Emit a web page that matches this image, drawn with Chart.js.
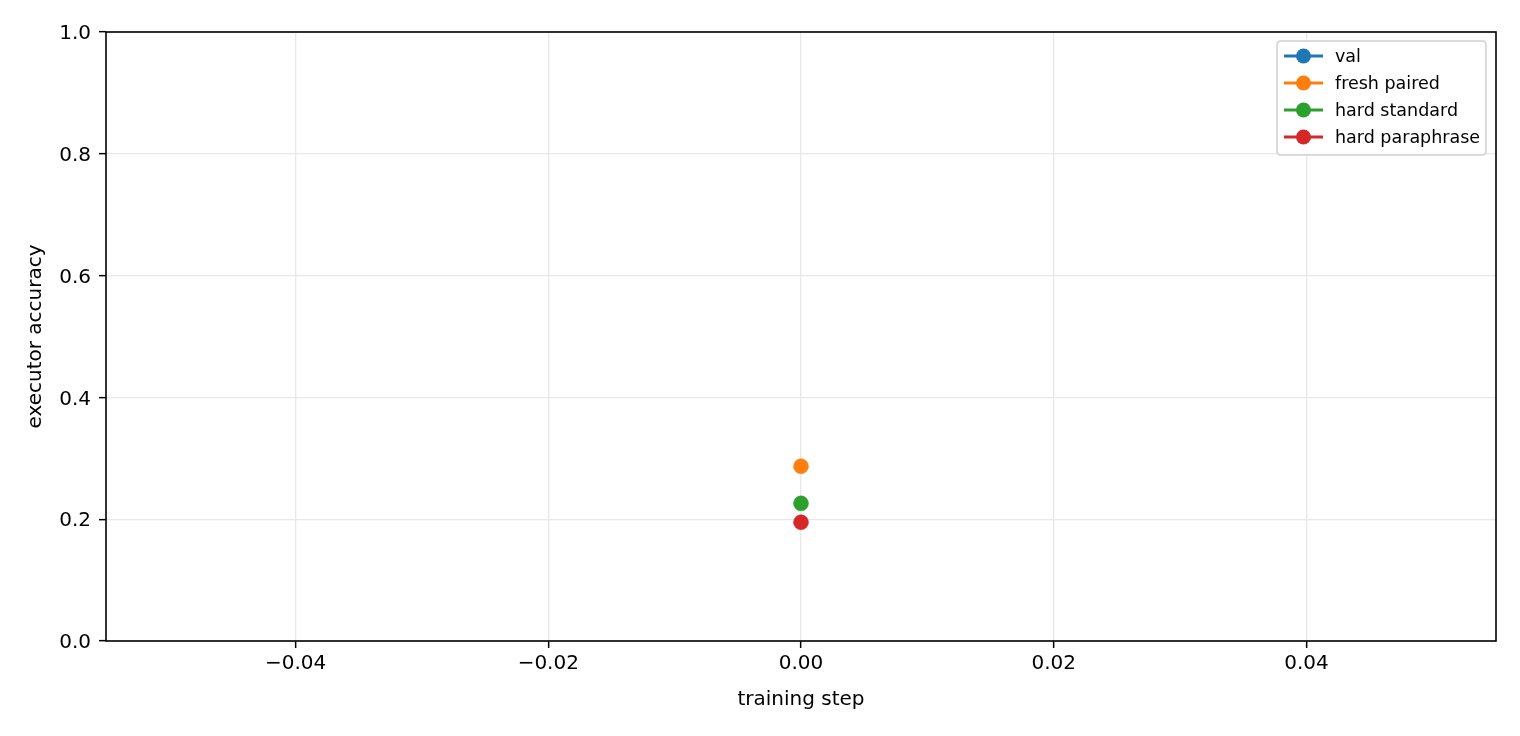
<!DOCTYPE html>
<html>
<head>
<meta charset="utf-8">
<script src="https://cdn.jsdelivr.net/npm/chart.js@4/dist/chart.umd.min.js"></script>
<style>
html,body{margin:0;padding:0;background:#fff;}
#wrap{width:1520px;height:736px;position:relative;}
</style>
</head>
<body>
<div id="wrap"><canvas id="c" width="1520" height="736"></canvas></div>
<script>
// ---- data ----
const seriesNames = ["val", "fresh paired", "hard standard", "hard paraphrase"];
const seriesColors = ["#1f77b4", "#ff7f0e", "#2ca02c", "#d62728"];
const steps = [0];
const valAcc = [null];
const freshPairedAcc = [0.287];
const hardStandardAcc = [0.226];
const hardParaphraseAcc = [0.195];
const xTicks = [-0.04, -0.02, 0.00, 0.02, 0.04];
const yTicks = [0.0, 0.2, 0.4, 0.6, 0.8, 1.0];
const xRange = [-0.055, 0.055];
const yRange = [0, 1];
const xTitle = "training step";
const yTitle = "executor accuracy";

const allSeries = [valAcc, freshPairedAcc, hardStandardAcc, hardParaphraseAcc];
const FONT = "'DejaVu Sans', sans-serif";

const datasets = allSeries.map((vals, i) => ({
  label: seriesNames[i],
  data: steps.map((s, j) => ({x: s, y: vals[j]})),
  borderColor: seriesColors[i],
  backgroundColor: seriesColors[i],
  pointBackgroundColor: seriesColors[i],
  pointBorderColor: seriesColors[i],
  borderWidth: 3,
  pointRadius: 7.5,
  pointBorderWidth: 0.5,
  showLine: true,
  spanGaps: false
}));

const fmtTick = (v, d) => {
  const s = Math.abs(v).toFixed(d);
  return (v < -1e-12 ? "\u2212" : "") + s;
};

const framePlugin = {
  id: 'frame',
  afterDatasetsDraw(chart) {
    const {ctx, chartArea: a} = chart;
    ctx.save();
    ctx.strokeStyle = '#000';
    ctx.lineWidth = 1.6;
    ctx.strokeRect(a.left, a.top, a.right - a.left, a.bottom - a.top);
    ctx.restore();
  }
};

const legendPlugin = {
  id: 'mplLegend',
  afterDraw(chart) {
    const {ctx, chartArea: a} = chart;
    const ds = chart.data.datasets;
    const boxW = 209, rowH = 27, padTop = 15;
    const boxH = 114;
    const x0 = a.right - 10 - boxW, y0 = a.top + 9;
    ctx.save();
    const r = 4;
    ctx.beginPath();
    ctx.moveTo(x0 + r, y0);
    ctx.lineTo(x0 + boxW - r, y0);
    ctx.quadraticCurveTo(x0 + boxW, y0, x0 + boxW, y0 + r);
    ctx.lineTo(x0 + boxW, y0 + boxH - r);
    ctx.quadraticCurveTo(x0 + boxW, y0 + boxH, x0 + boxW - r, y0 + boxH);
    ctx.lineTo(x0 + r, y0 + boxH);
    ctx.quadraticCurveTo(x0, y0 + boxH, x0, y0 + boxH - r);
    ctx.lineTo(x0, y0 + r);
    ctx.quadraticCurveTo(x0, y0, x0 + r, y0);
    ctx.closePath();
    ctx.fillStyle = 'rgba(255,255,255,0.8)';
    ctx.fill();
    ctx.strokeStyle = '#d0d0d0';
    ctx.lineWidth = 1.5;
    ctx.stroke();
    ds.forEach((d, i) => {
      const cy = y0 + padTop + i * rowH;
      ctx.strokeStyle = d.borderColor;
      ctx.lineWidth = 3;
      ctx.beginPath();
      ctx.moveTo(x0 + 7, cy);
      ctx.lineTo(x0 + 46, cy);
      ctx.stroke();
      ctx.fillStyle = d.borderColor;
      ctx.beginPath();
      ctx.arc(x0 + 26.5, cy, 7.5, 0, Math.PI * 2);
      ctx.fill();
      ctx.fillStyle = '#000';
      ctx.font = "17.5px " + FONT;
      ctx.textBaseline = 'middle';
      ctx.textAlign = 'left';
      ctx.fillText(d.label, x0 + 58, cy + 1);
    });
    ctx.restore();
  }
};

new Chart(document.getElementById('c'), {
  type: 'scatter',
  data: {datasets},
  options: {
    responsive: false,
    animation: false,
    devicePixelRatio: 1,
    layout: {padding: {top: 32, right: 24, left: 0, bottom: 0}},
    plugins: {legend: {display: false}, tooltip: {enabled: false}},
    scales: {
      x: {
        type: 'linear',
        min: xRange[0], max: xRange[1],
        afterBuildTicks: (s) => { s.ticks = xTicks.map(v => ({value: v})); },
        afterFit: (s) => { s.height = 95; },
        grid: {color: '#e8e8e8', lineWidth: 1.3, tickColor: '#000', tickLength: 7, tickWidth: 1.5, drawTicks: true},
        border: {display: false},
        ticks: {
          color: '#000', font: {family: FONT, size: 20}, padding: 4,
          maxRotation: 0, autoSkip: false,
          callback: (v) => fmtTick(v, 2)
        },
        title: {display: true, text: xTitle, color: '#000', font: {family: FONT, size: 20}, padding: {top: 24, bottom: 24}}
      },
      y: {
        type: 'linear',
        min: yRange[0], max: yRange[1],
        afterBuildTicks: (s) => { s.ticks = yTicks.map(v => ({value: v})); },
        afterFit: (s) => { s.width = 106; },
        grid: {color: '#e8e8e8', lineWidth: 1.3, tickColor: '#000', tickLength: 7, tickWidth: 1.5, drawTicks: true},
        border: {display: false},
        ticks: {
          color: '#000', font: {family: FONT, size: 20}, padding: 8,
          autoSkip: false, labelOffset: 2,
          callback: (v) => fmtTick(v, 1)
        },
        title: {display: true, text: yTitle, color: '#000', font: {family: FONT, size: 20}, padding: {top: 24, bottom: 24}}
      }
    }
  },
  plugins: [framePlugin, legendPlugin]
});
</script>
</body>
</html>
